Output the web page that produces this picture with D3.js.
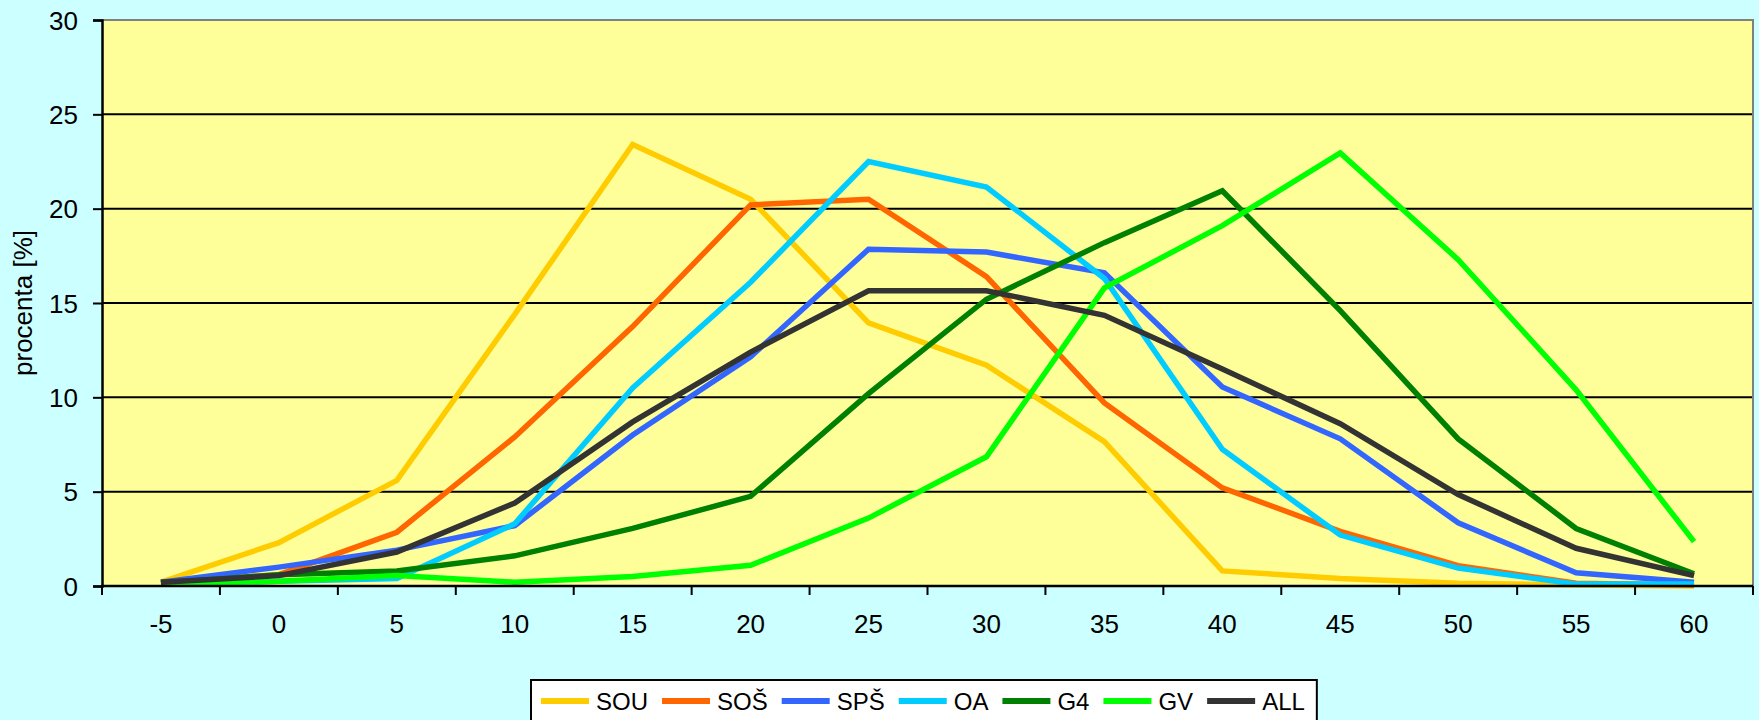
<html>
<head>
<meta http-equiv="Content-Type" content="text/html; charset=utf-8" />
<title>procenta</title>
<script src="https://d3js.org/d3.v7.min.js"></script>
<style type="text/css">
  body { margin: 0; background: #CCFFFF; }
  text { font-family: Arial, "Liberation Sans", sans-serif; fill: #000; }
</style>
</head>
<body>
<div id="chart"></div>
<script type="text/javascript">

// categories on the x axis
var categories = ["-5", "0", "5", "10", "15", "20", "25", "30", "35", "40", "45", "50", "55", "60"];
var yTicks = [0, 5, 10, 15, 20, 25, 30];
var seriesNames = ["SOU", "SOŠ", "SPŠ", "OA", "G4", "GV", "ALL"];
var seriesColors = ["#FFCC00", "#FF6600", "#3366FF", "#00CCFF", "#008000", "#00FF00", "#333333"];

var sou = [0.2, 2.3, 5.6, 14.4, 23.4, 20.5, 13.95, 11.7, 7.65, 0.8, 0.4, 0.15, 0.05, 0.0];
var sos = [0.2, 0.6, 2.85, 7.9, 13.75, 20.2, 20.5, 16.4, 9.7, 5.2, 2.9, 1.08, 0.15, 0.05];
var sps = [0.2, 1.0, 1.9, 3.2, 8.0, 12.15, 17.85, 17.7, 16.6, 10.55, 7.8, 3.35, 0.7, 0.2];
var oa = [0.1, 0.25, 0.4, 3.3, 10.5, 16.1, 22.5, 21.15, 16.3, 7.25, 2.7, 0.95, 0.1, 0.1];
var g4 = [0.15, 0.6, 0.8, 1.6, 3.05, 4.75, 10.2, 15.2, 18.2, 20.95, 14.6, 7.8, 3.05, 0.65];
var gv = [0.1, 0.25, 0.55, 0.2, 0.5, 1.1, 3.6, 6.85, 15.8, 19.1, 22.95, 17.3, 10.4, 2.35];
var all = [0.2, 0.55, 1.8, 4.4, 8.7, 12.4, 15.65, 15.65, 14.35, 11.5, 8.6, 4.85, 2.0, 0.55];

var seriesValues = [sou, sos, sps, oa, g4, gv, all];

var width = 1759, height = 720;
var margin = {top: 20, right: 6, bottom: 134, left: 102};

var svg = d3.select("#chart").append("svg")
    .attr("width", width)
    .attr("height", height);

var x = d3.scaleBand()
    .domain(categories)
    .range([margin.left, width - margin.right])
    .padding(0);

var y = d3.scaleLinear()
    .domain([0, 30])
    .range([height - margin.bottom, margin.top]);

var x0 = x.range()[0], x1 = x.range()[1];

// plot background
svg.append("rect")
    .attr("x", x0).attr("y", y(30))
    .attr("width", x1 - x0).attr("height", y(0) - y(30))
    .style("fill", "#FFFF99");

// gridlines
svg.append("g").selectAll("line")
    .data(yTicks.filter(function(d) { return d > 0 && d < 30; }))
    .enter().append("line")
    .attr("x1", x0).attr("x2", x1)
    .attr("y1", function(d) { return y(d); })
    .attr("y2", function(d) { return y(d); })
    .style("stroke", "#000").style("stroke-width", 2);

// top and right border
svg.append("path")
    .attr("d", "M" + x0 + "," + y(30) + "H" + x1 + "V" + y(0))
    .style("fill", "none").style("stroke", "#808080").style("stroke-width", 2);

// lines
var line = d3.line()
    .x(function(d, i) { return x(categories[i]) + x.bandwidth() / 2; })
    .y(function(d) { return y(d); });

svg.append("g").selectAll("path")
    .data(seriesValues)
    .enter().append("path")
    .attr("d", line)
    .style("fill", "none")
    .style("stroke", function(d, i) { return seriesColors[i]; })
    .style("stroke-width", 5.5)
    .style("stroke-linejoin", "miter");

// y axis
var yAxis = svg.append("g")
    .attr("transform", "translate(" + x0 + ",0)")
    .call(d3.axisLeft(y).tickValues(yTicks).tickSize(9).tickPadding(15));
yAxis.select(".domain").style("stroke", "#000").style("stroke-width", 2.5);
yAxis.selectAll(".tick line").style("stroke", "#000").style("stroke-width", 2);
yAxis.selectAll("text").style("font-size", "26px").attr("dy", "0.35em");

// x axis: labels at centers, tick marks at band edges
var xAxis = svg.append("g")
    .attr("transform", "translate(0," + y(0) + ")")
    .call(d3.axisBottom(x).tickSize(0).tickPadding(29));
xAxis.select(".domain").remove();
xAxis.selectAll("text").style("font-size", "26px");

svg.append("line")
    .attr("x1", x0 - 1).attr("x2", x1)
    .attr("y1", y(0)).attr("y2", y(0))
    .style("stroke", "#000").style("stroke-width", 2.5);

svg.append("g").selectAll("line")
    .data(categories.concat(["end"]))
    .enter().append("line")
    .attr("x1", function(d) { return d === "end" ? x1 : x(d); })
    .attr("x2", function(d) { return d === "end" ? x1 : x(d); })
    .attr("y1", y(0)).attr("y2", y(0) + 9)
    .style("stroke", "#000").style("stroke-width", 2);

// y title
svg.append("text")
    .attr("transform", "translate(32," + ((y(0) + y(30)) / 2) + ") rotate(-90)")
    .attr("text-anchor", "middle")
    .style("font-size", "26px")
    .text("procenta [%]");

// legend
var legend = svg.append("g");
var legendBox = legend.append("rect")
    .attr("x", 531).attr("y", 680)
    .attr("height", 60)
    .style("fill", "#FFFFFF").style("stroke", "#000").style("stroke-width", 2);

var lx = 541;
seriesNames.forEach(function(name, i) {
  legend.append("line")
      .attr("x1", lx).attr("x2", lx + 48)
      .attr("y1", 701).attr("y2", 701)
      .style("stroke", seriesColors[i]).style("stroke-width", 6);
  var t = legend.append("text")
      .attr("x", lx + 55).attr("y", 709.5)
      .style("font-size", "24px")
      .text(name);
  lx = lx + 55 + t.node().getComputedTextLength() + 14;
});
legendBox.attr("width", lx - 2 - 531);

</script>
</body>
</html>
